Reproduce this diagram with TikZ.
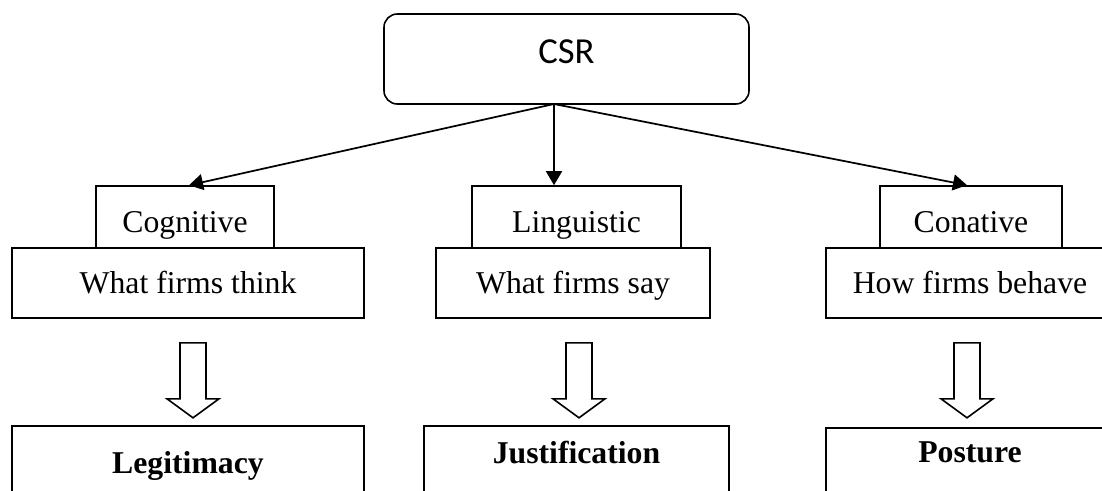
\documentclass[tikz,border=0pt]{standalone}
\usepackage{fontspec}
\setmainfont{Liberation Serif}
\newfontfamily\csrfont{Carlito}
\usepackage{tikz}
\usetikzlibrary{arrows.meta, calc}

\def\pxu{0.75pt}

\tikzset{
  box/.style={draw, line width=1.2pt, rectangle, inner sep=0pt,
    font=\fontsize{23.8pt}{28pt}\selectfont},
  csrbox/.style={box, rounded corners=10pt, minimum width=365*\pxu,
    minimum height=90*\pxu, text height=6pt, text depth=0pt,
    font=\csrfont\fontsize{27.5pt}{32pt}\selectfont},
  kindbox/.style={box, minimum height=62*\pxu, text height=22.5pt, text depth=0pt},
  whatbox/.style={box, minimum height=70*\pxu, text height=15.75pt, text depth=0pt},
  endbox/.style={box, text height=0pt, text depth=0pt,
    font=\fontsize{23.8pt}{28pt}\selectfont\bfseries},
  link/.style={line width=1.3pt, -{Triangle[length=10.5pt, width=12pt]}},
  hollow/.style={line width=1.2pt, fill=white}
}

\begin{document}
\begin{tikzpicture}[x=0.75pt, y=-0.75pt]
\useasboundingbox (0,0) rectangle (1102,490);

% Top
\node[csrbox] (csr) at (566.5,59) {CSR};
\coordinate (fork) at (554,104);

% Three dimensions
\node[kindbox, minimum width=178*\pxu] (cog) at (185,217) {Cognitive};
\node[kindbox, minimum width=209*\pxu] (ling) at (576.5,217) {Linguistic};
\node[kindbox, minimum width=182*\pxu] (con) at (971,217) {Conative};

\node[whatbox, minimum width=352*\pxu] (think) at (188,283) {What firms think};
\node[whatbox, minimum width=274*\pxu] (say) at (573,283) {What firms say};
\node[whatbox, minimum width=288*\pxu] (behave) at (970,283) {How firms behave};

\draw[link] (fork) -- ([xshift=4*\pxu]cog.north);
\draw[link] (fork) -- (fork |- ling.north);
\draw[link] (fork) -- ([xshift=-4*\pxu]con.north);

% Outcomes (cut off at the bottom)
\node[endbox, minimum width=352*\pxu, minimum height=94*\pxu] (legit) at (188,473) {Legitimacy};
\node[endbox, minimum width=305*\pxu, minimum height=74*\pxu] (justif) at (576.5,463) {Justification};
\node[endbox, minimum width=288*\pxu, minimum height=68*\pxu] (post) at (970,462) {Posture};

% Hollow arrows
\foreach \from/\dx in {think/5, say/6, behave/-3} {
  \draw[hollow] ($(\from.south)+(\dx-13,24)$) -- ++(0,56) -- ++(-13,0)
    -- ++(26,19) -- ++(26,-19) -- ++(-13,0) -- ++(0,-56) -- cycle;
}
\end{tikzpicture}
\end{document}
